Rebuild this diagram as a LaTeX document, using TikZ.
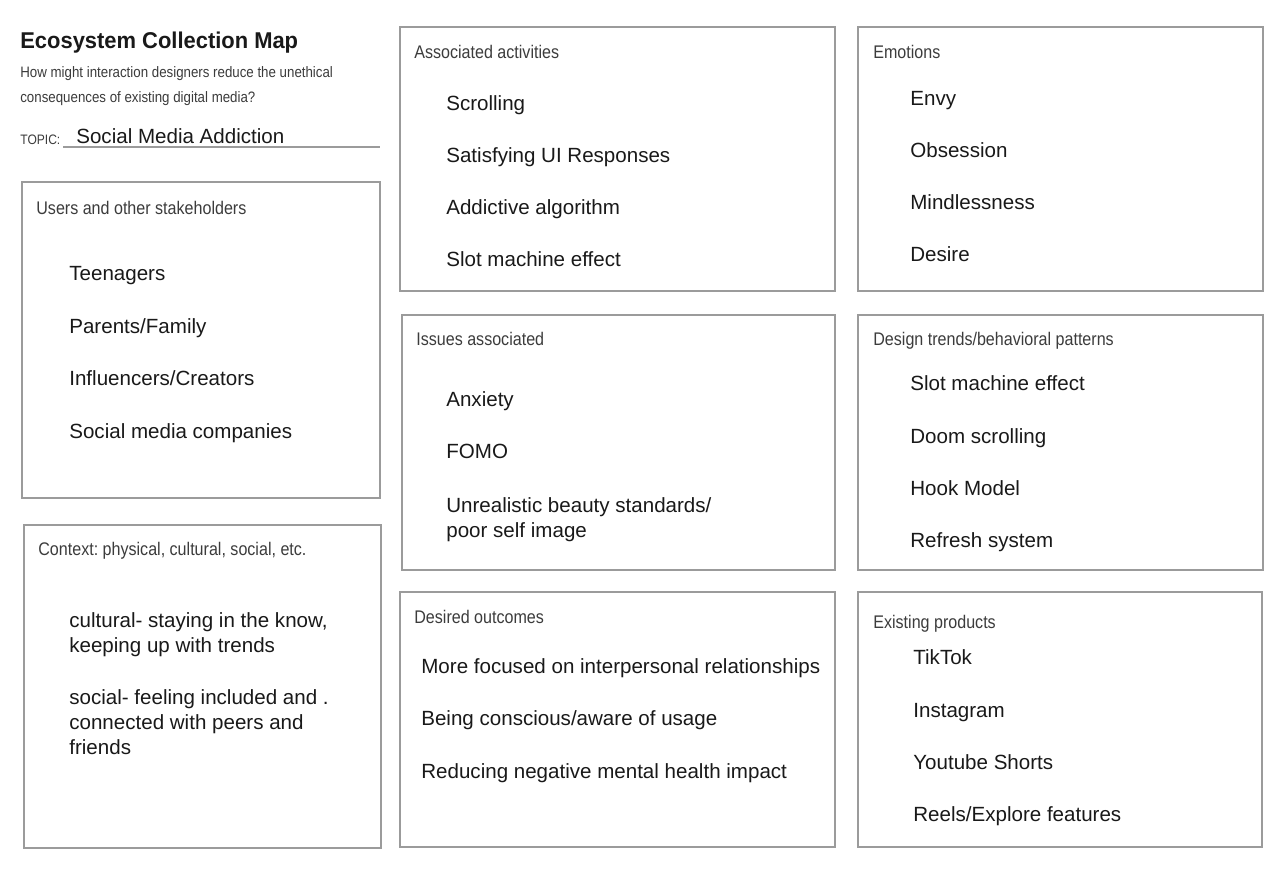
\documentclass[tikz,border=0pt]{standalone}
\usepackage{fontspec}
\usepackage{xcolor}
\usepackage{tikz}
\setmainfont{Liberation Sans}
\newfontfamily\headfont[FakeStretch=0.88]{Liberation Sans}
\newfontfamily\titlefont[FakeStretch=0.96]{Liberation Sans}
\definecolor{GrisMarco}{RGB}{155,155,155}
\definecolor{GrisTitulo}{RGB}{60,60,60}
\definecolor{NegroTexto}{RGB}{25,25,25}
\frenchspacing

\begin{document}
\begin{tikzpicture}[x=0.02cm,y=-0.02cm,
    panel/.style={draw=GrisMarco,line width=0.7pt},
    heading/.style={anchor=base west,inner sep=0pt,text=GrisTitulo,
      font=\headfont\fontsize{10.4}{12}\selectfont},
    entry/.style={anchor=base west,inner sep=0pt,text=NegroTexto,align=left,
      font=\fontsize{11.7}{14.2}\selectfont}]
  \useasboundingbox[fill=white] (0,0) rectangle (1287,876);
  % title block (multi-line nodes sit on their last baseline)
  \node[anchor=base west,inner sep=0pt,text=NegroTexto,
    font=\titlefont\bfseries\fontsize{13}{15}\selectfont] (title) at (20,48) {Ecosystem Collection Map};
  \node[anchor=base west,inner sep=0pt,text=GrisTitulo,align=left,
    font=\headfont\fontsize{8.6}{14.2}\selectfont] (question) at (20,102)
    {How might interaction designers reduce the unethical\\consequences of existing digital media?};
  \node[anchor=base west,inner sep=0pt,text=GrisTitulo,
    font=\headfont\fontsize{7.8}{9}\selectfont] (topiclbl) at (20,144) {TOPIC:};
  \node[entry] (topic) at (76,143) {Social Media Addiction};
  \coordinate (lineL) at (63,147);
  \coordinate (lineR) at (380,147);
  \draw[GrisMarco,line width=0.7pt] (lineL) -- (lineR);

  % panels
  \draw[panel] (22,182) rectangle (380,498);
  \draw[panel] (24,525) rectangle (381,848);
  \draw[panel] (400,27) rectangle (835,291);
  \draw[panel] (402,315) rectangle (835,570);
  \draw[panel] (400,592) rectangle (835,847);
  \draw[panel] (858,27) rectangle (1263,291);
  \draw[panel] (858,315) rectangle (1263,570);
  \draw[panel] (858,592) rectangle (1262,847);

  % users
  \node[heading] (usersH) at (36,214) {Users and other stakeholders};
  \node[entry] (users1) at (69,280) {Teenagers};
  \node[entry] (users2) at (69,333) {Parents/Family};
  \node[entry] (users3) at (69,385) {Influencers/Creators};
  \node[entry] (users4) at (69,438) {Social media companies};

  % context
  \node[heading] (contextH) at (38,555) {Context: physical, cultural, social, etc.};
  \node[entry] (context1) at (69,652) {cultural- staying in the know,\\keeping up with trends};
  \node[entry] (context2) at (69,754) {social- feeling included and .\\connected with peers and\\friends};

  % activities
  \node[heading] (activH) at (414,58) {Associated activities};
  \node[entry] (activ1) at (446,110) {Scrolling};
  \node[entry] (activ2) at (446,162) {Satisfying UI Responses};
  \node[entry] (activ3) at (446,214) {Addictive algorithm};
  \node[entry] (activ4) at (446,266) {Slot machine effect};

  % issues
  \node[heading] (issuesH) at (416,345) {Issues associated};
  \node[entry] (issues1) at (446,406) {Anxiety};
  \node[entry] (issues2) at (446,458) {FOMO};
  \node[entry] (issues3) at (446,537) {Unrealistic beauty standards/\\poor self image};

  % outcomes
  \node[heading] (outcomeH) at (414,623) {Desired outcomes};
  \node[entry] (outcome1) at (421,673) {More focused on interpersonal relationships};
  \node[entry] (outcome2) at (421,725) {Being conscious/aware of usage};
  \node[entry] (outcome3) at (421,778) {Reducing negative mental health impact};

  % emotions
  \node[heading] (emotionH) at (873,58) {Emotions};
  \node[entry] (emotion1) at (910,105) {Envy};
  \node[entry] (emotion2) at (910,157) {Obsession};
  \node[entry] (emotion3) at (910,209) {Mindlessness};
  \node[entry] (emotion4) at (910,261) {Desire};

  % trends
  \node[heading] (trendH) at (873,345) {Design trends/behavioral patterns};
  \node[entry] (trend1) at (910,390) {Slot machine effect};
  \node[entry] (trend2) at (910,443) {Doom scrolling};
  \node[entry] (trend3) at (910,495) {Hook Model};
  \node[entry] (trend4) at (910,547) {Refresh system};

  % products
  \node[heading] (productH) at (873,628) {Existing products};
  \node[entry] (product1) at (913,664) {TikTok};
  \node[entry] (product2) at (913,717) {Instagram};
  \node[entry] (product3) at (913,769) {Youtube Shorts};
  \node[entry] (product4) at (913,821) {Reels/Explore features};
\end{tikzpicture}
\end{document}
